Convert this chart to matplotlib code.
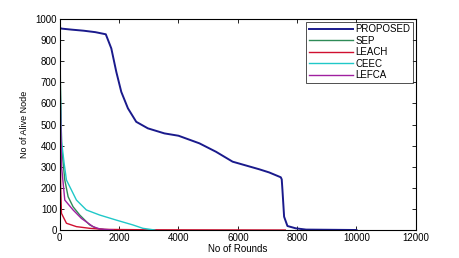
import matplotlib
matplotlib.use("Agg")
import matplotlib.pyplot as plt

# Data (rounds, alive nodes)
prop_x = [0, 1, 50, 400, 800, 1200, 1550, 1736, 1904, 2072, 2296, 2576, 2968, 3528, 4000,
          4704, 5264, 5824, 6720, 7056, 7448, 7480, 7504, 7560, 7672, 7952, 8300, 10000]
prop_y = [1000, 960, 955, 950, 945, 938, 928, 861, 750, 655, 577, 513, 482, 458, 447,
          411, 371, 324, 288, 273, 250, 240, 190, 63, 19, 8, 2, 0]

sep_x = [0, 20, 60, 168, 280, 448, 672, 1008, 1232, 1500, 2000]
sep_y = [1000, 700, 400, 237, 158, 110, 71, 24, 8, 2, 0]

leach_x = [0, 10, 30, 56, 224, 560, 1008, 1500, 3000, 7600]
leach_y = [1000, 500, 200, 79, 32, 16, 8, 3, 1, 0]

ceec_x = [0, 20, 60, 145, 224, 560, 896, 1344, 1904, 2464, 2800, 3200]
ceec_y = [1000, 640, 420, 317, 237, 142, 95, 71, 47, 24, 8, 0]

lefca_x = [0, 20, 60, 168, 448, 728, 1120, 1344, 1800]
lefca_y = [1000, 600, 300, 142, 95, 55, 16, 5, 0]

labels = ["PROPOSED", "SEP", "LEACH", "CEEC", "LEFCA"]

plt.rcParams['font.family'] = ['Liberation Sans', 'DejaVu Sans']

fig = plt.figure(figsize=(4.6, 2.58), dpi=100)
ax = fig.add_axes([0.130, 0.1085, 0.774, 0.8175])

ax.plot(prop_x, prop_y, color="#1a1a8c", lw=1.4, label=labels[0])
ax.plot(sep_x, sep_y, color="#2e8b57", lw=1.0, label=labels[1])
ax.plot(leach_x, leach_y, color="#d01030", lw=1.0, label=labels[2])
ax.plot(ceec_x, ceec_y, color="#20c8c8", lw=1.0, label=labels[3])
ax.plot(lefca_x, lefca_y, color="#a020a0", lw=1.0, label=labels[4])

ax.set_xlim(0, 12000)
ax.set_ylim(0, 1000)
ax.set_xticks(range(0, 12001, 2000))
ax.set_yticks(range(0, 1001, 100))
ax.tick_params(direction="in", top=True, right=True, labelsize=7, length=3, width=0.6, pad=2)
for s in ax.spines.values():
    s.set_linewidth(0.8)
ax.set_xlabel("No of Rounds", fontsize=7, labelpad=1)
ax.set_ylabel("No of Alive Node", fontsize=6.5, labelpad=5)

leg = ax.legend(loc="upper right", fontsize=7, frameon=True, fancybox=False,
                edgecolor="black", borderpad=0.3, labelspacing=0.15, handlelength=4.5,
                handletextpad=0.3, borderaxespad=0.25)
leg.get_frame().set_linewidth(0.6)

fig.savefig("out.png", dpi=100)
